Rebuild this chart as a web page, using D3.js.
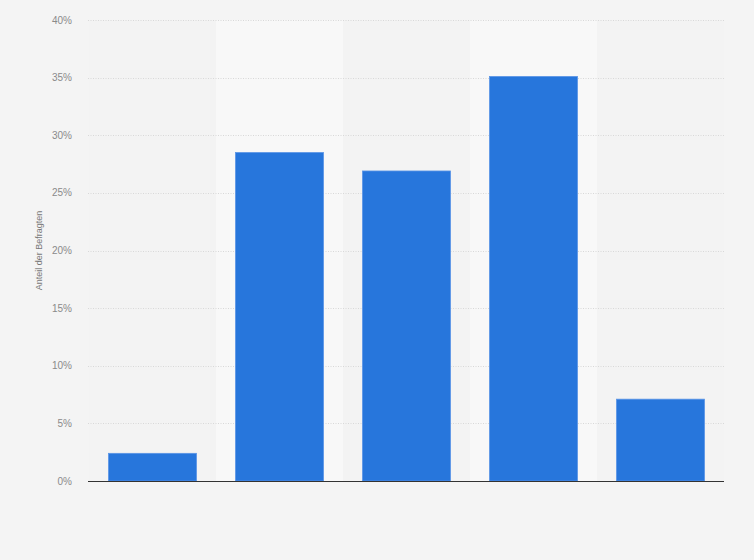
<!DOCTYPE html>
<html>
<head>
<meta charset="utf-8">
<script src="https://cdn.jsdelivr.net/npm/d3@7"></script>
<style>
  html, body { margin: 0; padding: 0; background: #f4f4f4; }
  svg { display: block; font-family: "Liberation Sans", Arial, sans-serif; }
</style>
</head>
<body>
<script>
// survey shares, 5 answer groups (labels not shown in the chart)
const categories = ["Gruppe 1", "Gruppe 2", "Gruppe 3", "Gruppe 4", "Gruppe 5"];
const values = [2.4, 28.5, 26.9, 35.1, 7.1];
const yTicks = [0, 5, 10, 15, 20, 25, 30, 35, 40];
const yLabel = "Anteil der Befragten";

const width = 754;
const height = 560;
const margin = {top: 20, right: 30, bottom: 79, left: 89};

const svg = d3.select("body")
    .append("svg")
    .attr("width", width)
    .attr("height", height);

svg.append("rect")
    .attr("width", width)
    .attr("height", height)
    .attr("fill", "#f4f4f4");

const xScale = d3.scaleBand()
    .domain(categories)
    .range([margin.left, width - margin.right])
    .paddingInner(0)
    .paddingOuter(0);

const yScale = d3.scaleLinear()
    .domain([0, 40])
    .range([height - margin.bottom, margin.top]);

// alternating column bands inside the plot area
svg.append("g")
    .selectAll("rect")
    .data(categories)
    .join("rect")
    .attr("x", d => xScale(d))
    .attr("y", yScale(40))
    .attr("width", xScale.bandwidth())
    .attr("height", yScale(0) - yScale(40))
    .attr("fill", (d, i) => i % 2 === 1 ? "#f8f8f8" : "#f3f3f3");

// dotted grid lines
svg.append("g")
    .selectAll("line")
    .data(yTicks.filter(d => d > 0))
    .join("line")
    .attr("x1", margin.left - 1)
    .attr("x2", width - margin.right)
    .attr("y1", d => Math.round(yScale(d)) + 0.5)
    .attr("y2", d => Math.round(yScale(d)) + 0.5)
    .attr("stroke", "#d8d8d8")
    .attr("stroke-dasharray", "1,1.5");

// y tick labels
svg.append("g")
    .selectAll("text")
    .data(yTicks)
    .join("text")
    .attr("x", 72)
    .attr("y", d => yScale(d) + 3.5)
    .attr("text-anchor", "end")
    .attr("font-size", 10)
    .attr("fill", "#8a8a8a")
    .text(d => d + "%");

// bars
const barW = 88;
svg.append("g")
    .selectAll("rect")
    .data(values)
    .join("rect")
    .attr("x", (d, i) => xScale(categories[i]) + (xScale.bandwidth() - barW) / 2)
    .attr("y", d => yScale(d))
    .attr("width", barW)
    .attr("height", d => yScale(0) - yScale(d))
    .attr("fill", "#2776dc")
    .attr("stroke", "#5a95e6")
    .attr("stroke-width", 0.8);

// baseline
svg.append("line")
    .attr("x1", margin.left - 1)
    .attr("x2", width - margin.right)
    .attr("y1", yScale(0) + 0.5)
    .attr("y2", yScale(0) + 0.5)
    .attr("stroke", "#333")
    .attr("stroke-width", 1);

// y axis title
svg.append("text")
    .attr("transform", `translate(42,${(margin.top + height - margin.bottom) / 2}) rotate(-90)`)
    .attr("text-anchor", "middle")
    .attr("font-size", 9)
    .attr("fill", "#777")
    .text(yLabel);
</script>
</body>
</html>
